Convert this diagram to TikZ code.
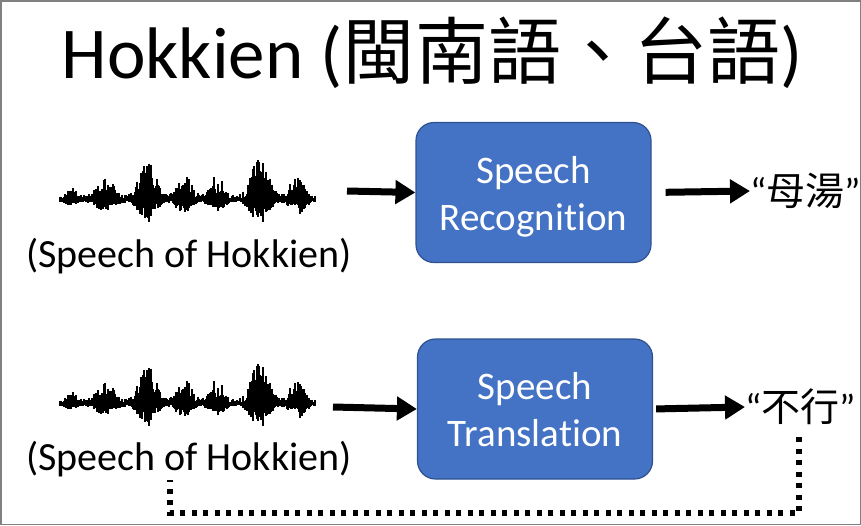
\documentclass[tikz,border=0pt]{standalone}
\usepackage{fontspec}
\setmainfont{Carlito}[Ligatures=NoCommon]
\newfontfamily\cjk{Noto Sans CJK TC}
\usetikzlibrary{arrows.meta}
\definecolor{boxblue}{HTML}{4472C4}
\definecolor{boxedge}{HTML}{2F528F}
\newcommand{\wavedraw}[2]{%
  \pgfmathsetseed{11}%
  \draw[line width=2pt] (#1,#2) -- (#1+256,#2);
  \foreach \i in {0,...,255}{%
    \pgfmathsetmacro{\xx}{#1+\i}%
    \pgfmathsetmacro{\env}{0.07
      +0.22*exp(-min(((\i-12)/9)^2,12))
      +0.50*exp(-min(((\i-45)/12)^2,12))
      +1.0*exp(-min(((\i-87)/11)^2,12))
      +0.58*exp(-min(((\i-124)/10)^2,12))
      +0.52*exp(-min(((\i-157)/10)^2,12))
      +1.0*exp(-min(((\i-200)/12)^2,12))
      +0.58*exp(-min(((\i-238)/10)^2,12))}%
    \pgfmathsetmacro{\up}{min(\env,1)*(0.25+0.75*rnd)*42}%
    \pgfmathsetmacro{\dn}{min(\env,1)*(0.25+0.75*rnd)*22}%
    \draw[line width=1.3pt] (\xx,#2-\up) -- (\xx,#2+\dn);
  }}
\newcommand{\toprule}{\rule{0pt}{38pt}}
\newcommand{\botrule}{\rule[-10pt]{0pt}{10pt}}
\tikzset{
  box/.style={draw=boxedge, line width=1.2pt, fill=boxblue, rounded corners=18pt,
    minimum width=235pt, minimum height=140pt, inner sep=0pt, text=white,
    align=center, font=\fontsize{39}{47}\selectfont},
  lbl/.style={font=\fontsize{40}{48}\selectfont, inner sep=0pt},
  outtxt/.style={font=\fontsize{39}{44}\selectfont, inner sep=0pt},
  flow/.style={line width=7pt, -{Triangle[length=20pt,width=23pt]}},
  dotline/.style={line width=5.5pt, dash pattern=on 5pt off 6.5pt},
}
\begin{document}
\begin{tikzpicture}[x=1pt,y=-1pt]
\useasboundingbox (0,0) rectangle (861,525);
\draw[line width=1.5pt, draw=gray] (0.75,0.75) rectangle (860.25,524.25);
% title
\node[anchor=base, inner sep=0pt, font=\fontsize{73}{86}\selectfont] (title) at (432,78)
  {Hokkien ({\cjk 閩南語、台語})};
% row 1
\wavedraw{60}{200}
\node[minimum width=256pt, minimum height=62pt, inner sep=0pt] (w1) at (188,190) {};
\node[lbl, anchor=base] (l1) at (189,267) {(Speech of Hokkien)};
\node[box] (b1) at (533.5,192.5) {\toprule Speech\\Recognit\kern0pt ion\botrule};
\node[outtxt, anchor=west] (o1) at (750,191) {“{\cjk 母湯}”};
\coordinate (a1) at (347,191);
\draw[flow] (a1) -- (b1.west);
\draw[flow, shorten <=14pt] (b1.east) -- (o1.west);
% row 2
\wavedraw{60}{404}
\node[minimum width=256pt, minimum height=62pt, inner sep=0pt] (w2) at (188,395) {};
\node[lbl, anchor=base] (l2) at (189,470) {(Speech of Hokkien)};
\node[box] (b2) at (535,409) {\toprule Speech\\Translat\kern0pt ion\botrule};
\node[outtxt, anchor=west] (o2) at (745,407) {“{\cjk 不行}”};
\coordinate (a2) at (333,407);
\draw[flow] (a2) -- (b2.west);
\draw[flow, shorten <=3pt] (b2.east) -- (o2.west);
% dotted feedback
\coordinate (d1) at (799,437);
\coordinate (d2) at (170,480);
\draw[dotline] (d1) -- (799,513) -| (d2);
\end{tikzpicture}
\end{document}
